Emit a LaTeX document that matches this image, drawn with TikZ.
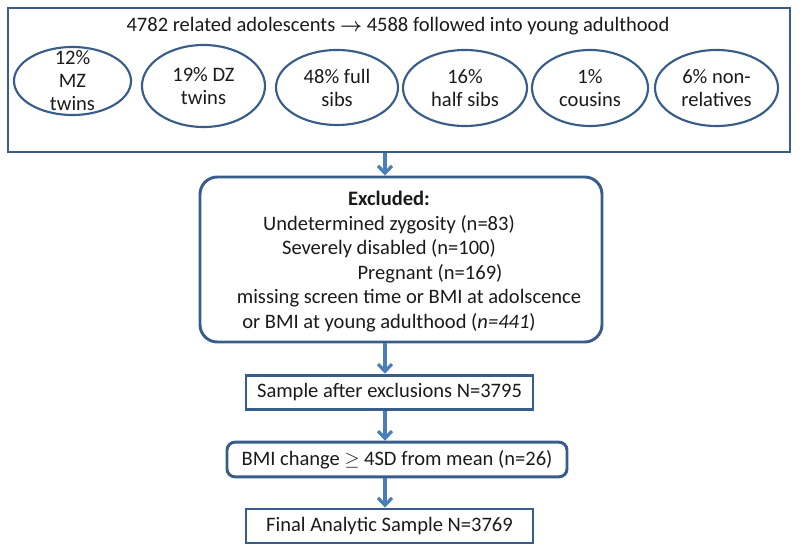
\documentclass[tikz,border=0pt]{standalone}
\usepackage{fontspec}
\setmainfont{Carlito}
\usetikzlibrary{arrows.meta,shapes.geometric}
\definecolor{framecolor}{HTML}{385D8A}
\definecolor{arrowcolor}{HTML}{4A7EBB}
\definecolor{inkcolor}{HTML}{1A1A1A}

\begin{document}
\begin{tikzpicture}[
    x=0.75pt,y=-0.75pt,
    font=\fontsize{15.4}{18.4}\selectfont,text=inkcolor,
    group/.style={draw=framecolor,line width=2.2pt,minimum width=586.5pt,minimum height=108pt,inner sep=0pt},
    rel/.style={ellipse,draw=framecolor,line width=1.6pt,inner sep=0pt},
    reltext/.style={align=center,font=\fontsize{15.4}{17.3}\selectfont},
    box/.style={draw=framecolor,line width=2.2pt,minimum height=26pt,inner sep=0pt,align=center},
    arr/.style={draw=arrowcolor,line width=2.4pt,-{Straight Barb[length=5.5pt,width=10.5pt]}},
  ]
    \useasboundingbox (0,0) rectangle (800,552);

    % cohort and relationship types
    \node[group] (cohort) at (399,80) {};
    \node (title) at (398,26) {4782 related adolescents {\boldmath$\rightarrow$} 4588 followed into young adulthood};
    \node[rel,minimum width=87.75pt,minimum height=51pt,label={[reltext]center:12\%\\MZ\\twins}] (mz) at (72.5,81) {};
    \node[rel,minimum width=92.25pt,minimum height=61.5pt,label={[reltext]center:19\% DZ\\twins}] (dz) at (203.5,86) {};
    \node[rel,minimum width=91.5pt,minimum height=56.25pt,label={[reltext]center:48\% full\\sibs}] (full) at (337,87.5) {};
    \node[rel,minimum width=93pt,minimum height=57pt,label={[reltext]center:16\%\\half sibs}] (half) at (465,88) {};
    \node[rel,minimum width=87pt,minimum height=57pt,label={[reltext]center:1\%\\cousins}] (cous) at (590,88) {};
    \node[rel,minimum width=92.25pt,minimum height=57pt,label={[reltext]center:6\% non-\\relatives}] (nonrel) at (716.5,88) {};

    % exclusions
    \node[box,rounded corners=13pt,minimum width=301.5pt,minimum height=123.75pt] (excl) at (401,259.5) {};
    \node[align=center] (excltext) at (389,261.5) {\textbf{Excluded:}\\
      Undetermined zygosity (n=83)\\
      Severely disabled (n=100)\\
      \hspace*{61.5pt}Pregnant (n=169)\\
      \hspace*{30pt}missing screen time or BMI at adolscence\\
      or BMI at young adulthood (\textit{n=441})};

    % samples
    \node[box,minimum width=215.25pt] (sample) at (389.5,392.5) {Sample after exclusions N=3795};
    \node[box,rounded corners=6pt,minimum width=255pt] (bmi) at (397,459.5) {BMI change $\geq$ 4SD from mean (n=26)};
    \node[box,minimum width=215.25pt,minimum height=25.5pt] (final) at (389.5,526) {Final Analytic Sample N=3769};

    \coordinate (col) at (385,0);
    \draw[arr] (cohort.south -| col) -- (excl.north -| col);
    \draw[arr] (excl.south -| col) -- (sample.north -| col);
    \draw[arr] (sample.south -| col) -- (bmi.north -| col);
    \draw[arr] (bmi.south -| col) -- (final.north -| col);
  \end{tikzpicture}
\end{document}
